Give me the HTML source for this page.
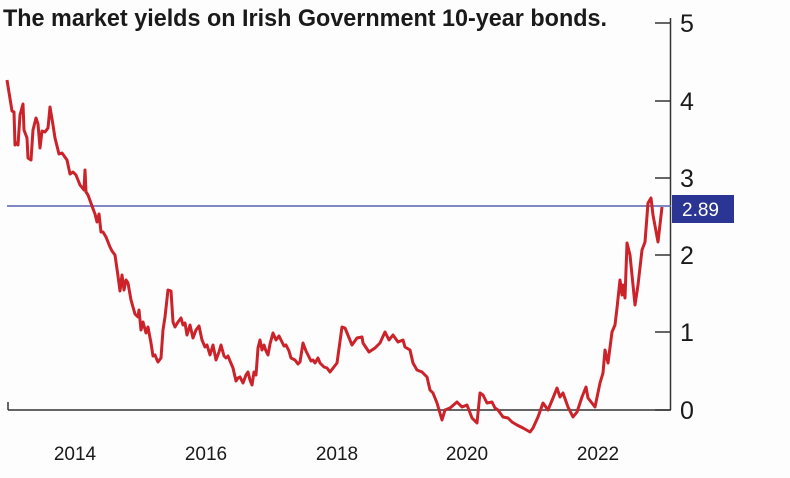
<!DOCTYPE html>
<html><head><meta charset="utf-8"><style>body{margin:0;background:#fff}svg{display:block}</style></head>
<body>
<svg width="790" height="478" viewBox="0 0 790 478" xmlns="http://www.w3.org/2000/svg" font-family="Liberation Sans, sans-serif">
<rect width="790" height="478" fill="#fdfdfd"/>
<text x="3" y="26" font-size="24" font-weight="bold" fill="#1a1a1a" textLength="604" lengthAdjust="spacingAndGlyphs">The market yields on Irish Government 10-year bonds.</text>
<line x1="670.5" y1="18" x2="670.5" y2="410" stroke="#333" stroke-width="1.5"/>
<line x1="8" y1="410" x2="671" y2="410" stroke="#333" stroke-width="1.5"/>
<line x1="8" y1="402" x2="8" y2="410" stroke="#333" stroke-width="1.5"/>
<g stroke="#333" stroke-width="1.5">
<line x1="655" y1="23" x2="670" y2="23"/><line x1="655" y1="101" x2="670" y2="101"/><line x1="655" y1="178" x2="670" y2="178"/><line x1="655" y1="255" x2="670" y2="255"/><line x1="655" y1="332" x2="670" y2="332"/><line x1="655" y1="410" x2="670" y2="410"/>
</g>
<g font-size="25" fill="#1a1a1a">
<text x="680" y="32">5</text><text x="680" y="110">4</text><text x="680" y="187">3</text><text x="680" y="264">2</text><text x="680" y="341">1</text><text x="680" y="419">0</text>
</g>
<g font-size="19" fill="#1a1a1a" text-anchor="middle">
<text x="75" y="460">2014</text><text x="206" y="460">2016</text><text x="337" y="460">2018</text><text x="467" y="460">2020</text><text x="598" y="460">2022</text>
</g>
<line x1="7" y1="206" x2="671" y2="206" stroke="#5a62b0" stroke-width="1.5"/>
<rect x="672" y="195" width="62" height="28" fill="#2b3694"/>
<text x="682" y="216" font-size="19" fill="#fff">2.89</text>
<polyline fill="none" stroke="#cc2229" stroke-width="3" stroke-linejoin="round" points="7,80 12,111 14,112 15,145 17,143 18,145 20,115 23,104 24,130 27,138 28,158 31,160 33,130 36,118 38,124 40,148 42,131 45,132 48,128 50,107 53,125 55,138 59,154 62,153 67,160 70,174 73,172 76,175 78,180 80,185 84,190 85,170 86,192 88,195 92,206 95,214 97,222 99,214 101,232 103,232 106,237 110,247 112,251 115,255 118,276 120,291 122,275 124,290 126,280 128,283 131,300 135,314 138,317 139,310 141,330 143,322 146,333 148,327 151,343 153,356 155,355 157,360 158,362 161,358 163,330 165,317 168,290 171,291 173,322 175,327 178,322 181,318 183,325 185,323 187,335 190,325 193,338 196,330 199,326 202,340 205,347 207,345 210,355 213,345 216,360 219,352 221,345 224,356 226,358 228,356 230,361 233,368 236,381 238,378 240,377 243,383 246,375 248,372 250,380 252,385 254,372 256,375 258,348 260,340 262,350 264,345 266,351 268,355 270,344 273,333 276,340 279,336 282,342 284,346 286,345 289,351 291,358 295,360 298,364 300,362 303,343 306,351 309,357 311,361 313,360 315,363 318,358 320,363 322,365 324,367 327,368 330,372 337,363 342,327 345,328 352,345 357,338 362,337 363,343 369,352 375,348 380,343 385,332 389,340 393,335 398,342 403,340 405,347 410,350 413,363 417,370 422,372 427,377 430,390 433,393 437,403 442,420 445,410 450,408 457,402 462,407 467,405 472,418 477,423 480,393 483,395 487,403 492,402 495,408 498,410 503,417 508,418 512,422 517,425 523,428 530,432 533,428 538,417 543,403 548,410 553,398 557,388 560,397 563,393 568,407 573,417 577,412 582,397 586,387 588,398 595,407 600,383 603,373 605,350 608,363 612,332 615,325 617,308 620,280 622,295 623,285 625,298 627,243 630,255 635,305 638,285 642,250 645,242 648,203 651,198 653,215 658,242 662,207"/>
</svg>
</body></html>
